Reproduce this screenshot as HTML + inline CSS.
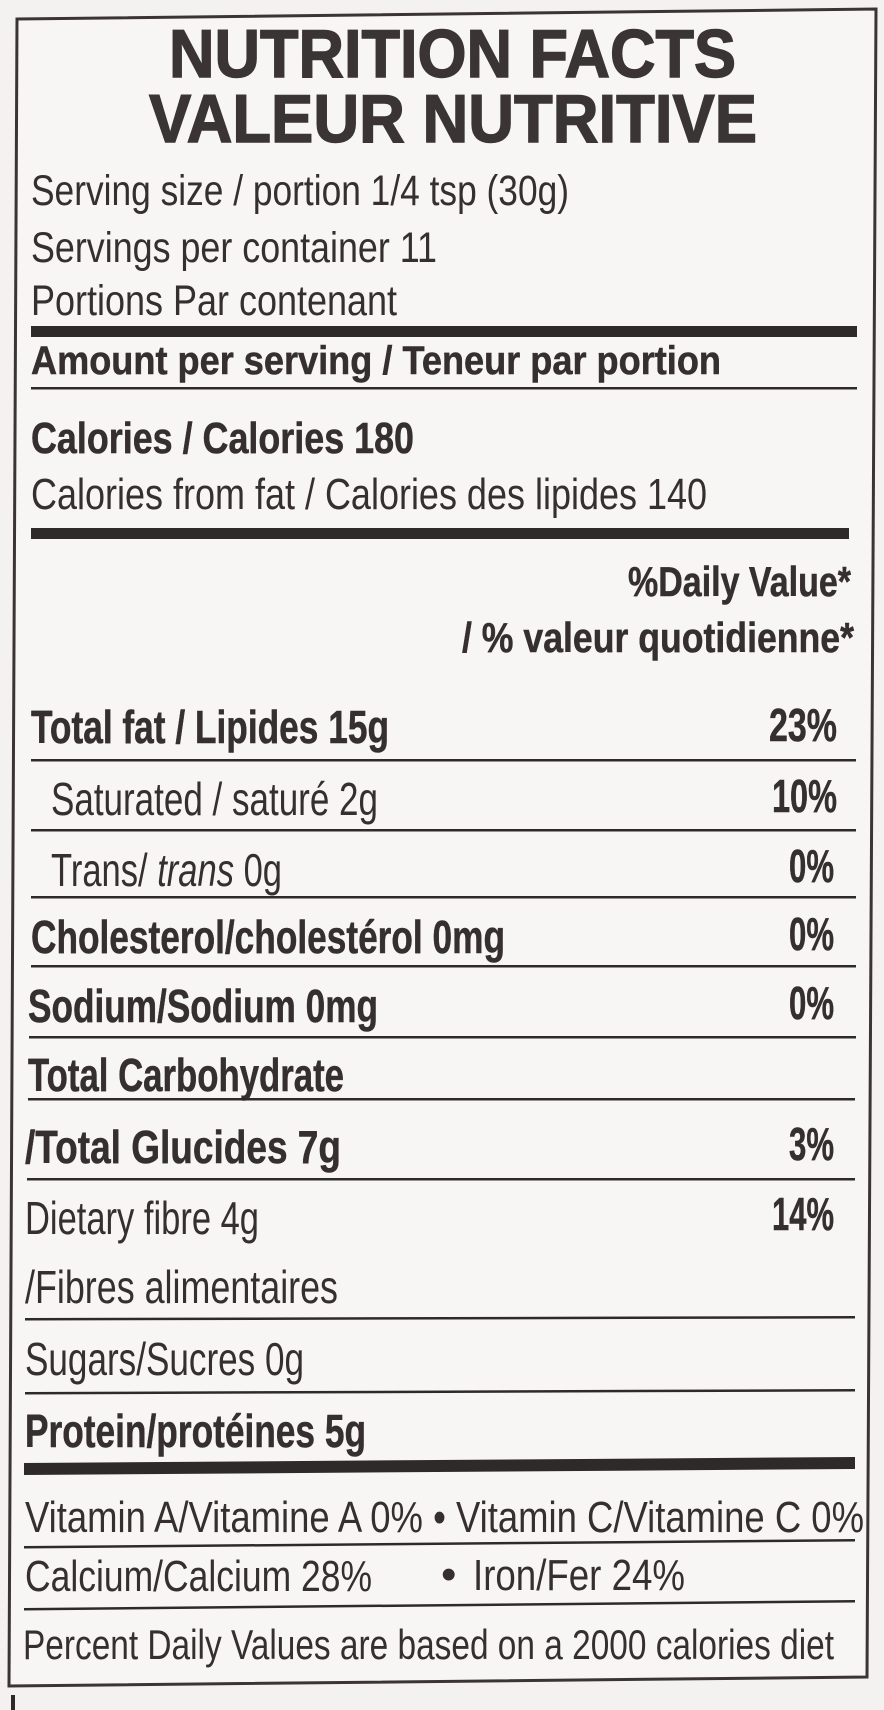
<!DOCTYPE html>
<html>
<head>
<meta charset="utf-8">
<style>
  html,body{margin:0;padding:0;background:#f3f2f1;}
  svg{display:block;}
  text{font-family:"Liberation Sans",Arial,sans-serif;fill:#352f2f;}
  .b{font-weight:bold;stroke:#352f2f;stroke-width:0.5;}
  .t{font-weight:bold;fill:#3a3434;stroke:#3a3434;stroke-width:1.4;}
</style>
</head>
<body>
<svg width="884" height="1710" viewBox="0 0 884 1710" xmlns="http://www.w3.org/2000/svg">
  <rect x="0" y="0" width="884" height="1710" fill="#f3f2f1"/>
  <!-- outer border -->
  <polygon points="17,19 876,9 867,1677 9,1686" fill="#f7f6f5" stroke="#3a3434" stroke-width="3"/>
  <!-- small mark bottom -->
  <rect x="11" y="1695" width="4" height="15" fill="#2f2a2a"/>

  <!-- title -->
  <text class="t" x="169" y="77" font-size="68" textLength="567" lengthAdjust="spacingAndGlyphs">NUTRITION FACTS</text>
  <text class="t" x="149" y="142" font-size="68" textLength="608" lengthAdjust="spacingAndGlyphs">VALEUR NUTRITIVE</text>

  <text x="31" y="205" font-size="43" textLength="538" lengthAdjust="spacingAndGlyphs">Serving size / portion 1/4 tsp (30g)</text>
  <text x="31" y="262" font-size="43" textLength="406" lengthAdjust="spacingAndGlyphs">Servings per container 11</text>
  <text x="31" y="315" font-size="43" textLength="366" lengthAdjust="spacingAndGlyphs">Portions Par contenant</text>

  <rect x="31" y="326" width="826" height="11" fill="#2f2a2a"/>

  <text class="b" x="31" y="374" font-size="40" textLength="690" lengthAdjust="spacingAndGlyphs">Amount per serving / Teneur par portion</text>
  <rect x="31" y="387" width="826" height="2.5" fill="#2f2a2a"/>

  <text class="b" x="31" y="453" font-size="44" textLength="383" lengthAdjust="spacingAndGlyphs">Calories / Calories 180</text>
  <text x="31" y="509" font-size="44" textLength="676" lengthAdjust="spacingAndGlyphs">Calories from fat / Calories des lipides 140</text>

  <rect x="31" y="528" width="818" height="11" fill="#2f2a2a"/>

  <text class="b" x="628" y="596" font-size="42" textLength="223" lengthAdjust="spacingAndGlyphs">%Daily Value*</text>
  <text class="b" x="462" y="652" font-size="42" textLength="392" lengthAdjust="spacingAndGlyphs">/ % valeur quotidienne*</text>

  <!-- Total fat -->
  <text class="b" x="31" y="743" font-size="46" textLength="358" lengthAdjust="spacingAndGlyphs">Total fat / Lipides 15g</text>
  <text class="b" x="769" y="741" font-size="46" textLength="68" lengthAdjust="spacingAndGlyphs">23%</text>
  <rect x="31" y="759" width="825" height="2.5" fill="#2f2a2a"/>

  <!-- Saturated -->
  <text x="51" y="815" font-size="46" textLength="327" lengthAdjust="spacingAndGlyphs">Saturated / saturé 2g</text>
  <text class="b" x="772" y="812" font-size="46" textLength="65" lengthAdjust="spacingAndGlyphs">10%</text>
  <rect x="31" y="829" width="825" height="2.5" fill="#2f2a2a"/>

  <!-- Trans -->
  <text x="51" y="886" font-size="46" textLength="231" lengthAdjust="spacingAndGlyphs">Trans/ <tspan font-style="italic">trans</tspan> 0g</text>
  <text class="b" x="789" y="882" font-size="46" textLength="45" lengthAdjust="spacingAndGlyphs">0%</text>
  <rect x="31" y="896" width="825" height="2.5" fill="#2f2a2a"/>

  <!-- Cholesterol -->
  <text class="b" x="31" y="953" font-size="46" textLength="474" lengthAdjust="spacingAndGlyphs">Cholesterol/cholestérol 0mg</text>
  <text class="b" x="789" y="950" font-size="46" textLength="45" lengthAdjust="spacingAndGlyphs">0%</text>
  <rect x="31" y="965" width="825" height="2.5" fill="#2f2a2a"/>

  <!-- Sodium -->
  <text class="b" x="28" y="1022" font-size="46" textLength="350" lengthAdjust="spacingAndGlyphs">Sodium/Sodium 0mg</text>
  <text class="b" x="789" y="1019" font-size="46" textLength="45" lengthAdjust="spacingAndGlyphs">0%</text>
  <rect x="29" y="1036" width="827" height="2.5" fill="#2f2a2a"/>

  <!-- Total Carbohydrate -->
  <text class="b" x="28" y="1091" font-size="46" textLength="316" lengthAdjust="spacingAndGlyphs">Total Carbohydrate</text>
  <rect x="28" y="1098" width="827" height="2.5" fill="#2f2a2a"/>

  <!-- Glucides -->
  <text class="b" x="25" y="1163" font-size="46" textLength="316" lengthAdjust="spacingAndGlyphs">/Total Glucides  7g</text>
  <text class="b" x="789" y="1160" font-size="46" textLength="45" lengthAdjust="spacingAndGlyphs">3%</text>
  <rect x="27" y="1178" width="828" height="2.5" fill="#2f2a2a"/>

  <!-- Dietary fibre -->
  <text x="25" y="1234" font-size="46" textLength="234" lengthAdjust="spacingAndGlyphs">Dietary fibre 4g</text>
  <text class="b" x="772" y="1230" font-size="46" textLength="62" lengthAdjust="spacingAndGlyphs">14%</text>
  <text x="25" y="1303" font-size="46" textLength="313" lengthAdjust="spacingAndGlyphs">/Fibres alimentaires</text>
  <polygon points="25,1318 855,1316 855,1318.5 25,1320.5" fill="#2f2a2a"/>

  <!-- Sugars -->
  <text x="25" y="1375" font-size="46" textLength="279" lengthAdjust="spacingAndGlyphs">Sugars/Sucres 0g</text>
  <polygon points="25,1392 855,1389 855,1391.5 25,1394.5" fill="#2f2a2a"/>

  <!-- Protein -->
  <text class="b" x="25" y="1447" font-size="46" textLength="341" lengthAdjust="spacingAndGlyphs">Protein/protéines 5g</text>
  <polygon points="24,1463 855,1457 855,1469 24,1475" fill="#2f2a2a"/>

  <!-- Vitamins -->
  <text x="25" y="1532" font-size="44" textLength="839" lengthAdjust="spacingAndGlyphs">Vitamin A/Vitamine A  0% • Vitamin C/Vitamine C 0%</text>
  <polygon points="24,1546 855,1539 855,1541.5 24,1548.5" fill="#2f2a2a"/>

  <text x="25" y="1591" font-size="44" textLength="347" lengthAdjust="spacingAndGlyphs">Calcium/Calcium 28%</text>
  <text x="441" y="1589" font-size="44">•</text>
  <text x="473" y="1590" font-size="44" textLength="212" lengthAdjust="spacingAndGlyphs">Iron/Fer 24%</text>
  <polygon points="24,1608 855,1600 855,1602.5 24,1610.5" fill="#2f2a2a"/>

  <text x="23" y="1659" font-size="42" textLength="811" lengthAdjust="spacingAndGlyphs">Percent Daily Values are based on a 2000 calories diet</text>
</svg>
</body>
</html>
